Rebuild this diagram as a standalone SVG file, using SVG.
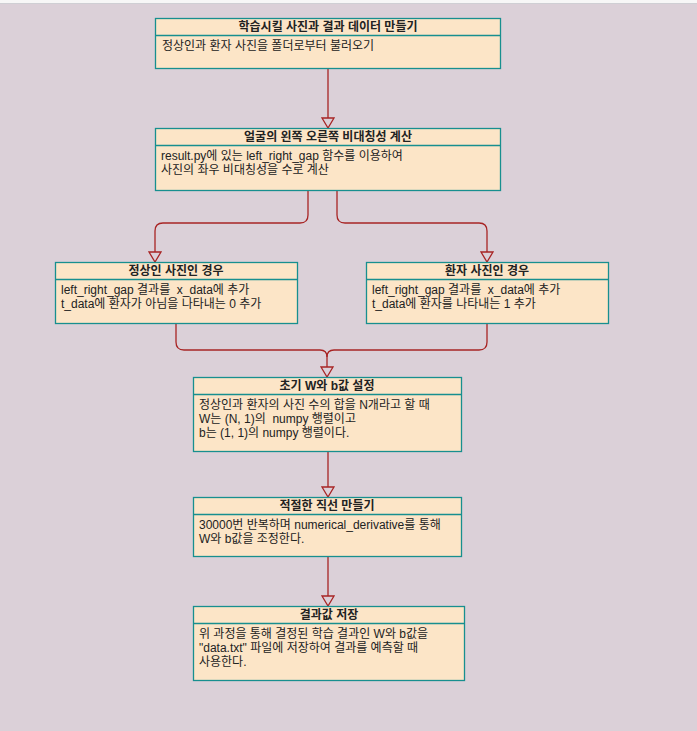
<svg xmlns="http://www.w3.org/2000/svg" width="697" height="731" viewBox="0 0 697 731">
<defs>
<style>
.box{fill:#fce5c7;stroke:#178f8f;stroke-width:1.3}
.div{stroke:#178f8f;stroke-width:1.3}
.t{font-family:"Liberation Sans","Noto Sans CJK KR",sans-serif;font-size:12px;fill:#222;white-space:pre}
.h{font-weight:bold;text-anchor:middle}
.c{fill:none;stroke:#a82424;stroke-width:1.3}
</style>
<marker id="ah" markerWidth="14" markerHeight="12" viewBox="0 0 14 12" refX="7" refY="11" orient="0" markerUnits="userSpaceOnUse">
<path d="M1,1 L13,1 L7,11 Z" fill="#dbd0d8" stroke="#a82424" stroke-width="1.3"/>
</marker>
</defs>
<rect width="697" height="731" fill="#dbd0d8"/>
<rect width="697" height="4" fill="#f7f7f7"/>
<line x1="0" y1="3.5" x2="697" y2="3.5" stroke="#cfcfd4" stroke-width="1"/>

<g id="connectors">
<path class="c" d="M328,68 V128" marker-end="url(#ah)"/>
<path class="c" d="M308,190 V215 Q308,223 300,223 H163 Q155,223 155,231 V262" marker-end="url(#ah)"/>
<path class="c" d="M337,190 V215 Q337,223 345,223 H479 Q487,223 487,231 V262" marker-end="url(#ah)"/>
<path class="c" d="M176,323 V342 Q176,350 184,350 H320 Q327,350 327,357 V377" marker-end="url(#ah)"/>
<path class="c" d="M487,323 V342 Q487,350 479,350 H334 Q327,350 327,357"/>
<path class="c" d="M328,451 V497" marker-end="url(#ah)"/>
<path class="c" d="M328,556 V606" marker-end="url(#ah)"/>
</g>

<g id="n1">
<rect class="box" x="155.5" y="18.5" width="345" height="50"/>
<line class="div" x1="155.5" y1="35.5" x2="500.5" y2="35.5"/>
<text class="t h" x="328" y="31">학습시킬 사진과 결과 데이터 만들기</text>
<text class="t" x="162" y="50">정상인과 환자 사진을 폴더로부터 불러오기</text>
</g>

<g id="n2">
<rect class="box" x="155.5" y="128.5" width="345" height="62"/>
<line class="div" x1="155.5" y1="145.5" x2="500.5" y2="145.5"/>
<text class="t h" x="328" y="141">얼굴의 왼쪽 오른쪽 비대칭성 계산</text>
<text class="t" x="161" y="160">result.py에 있는 left_right_gap 함수를 이용하여</text>
<text class="t" x="161" y="174">사진의 좌우 비대칭성을 수로 계산</text>
</g>

<g id="n3">
<rect class="box" x="55.5" y="262.5" width="242" height="61"/>
<line class="div" x1="55.5" y1="279.5" x2="297.5" y2="279.5"/>
<text class="t h" x="176" y="275">정상인 사진인 경우</text>
<text class="t" x="61" y="294" xml:space="preserve">left_right_gap 결과를  x_data에 추가</text>
<text class="t" x="61" y="308">t_data에 환자가 아님을 나타내는 0 추가</text>
</g>

<g id="n4">
<rect class="box" x="366.5" y="262.5" width="242" height="61"/>
<line class="div" x1="366.5" y1="279.5" x2="608.5" y2="279.5"/>
<text class="t h" x="487" y="275">환자 사진인 경우</text>
<text class="t" x="372" y="294" xml:space="preserve">left_right_gap 결과를  x_data에 추가</text>
<text class="t" x="372" y="308">t_data에 환자를 나타내는 1 추가</text>
</g>

<g id="n5">
<rect class="box" x="193.5" y="377.5" width="268" height="74"/>
<line class="div" x1="193.5" y1="394.5" x2="461.5" y2="394.5"/>
<text class="t h" x="327" y="390">초기 W와 b값 설정</text>
<text class="t" x="199" y="409">정상인과 환자의 사진 수의 합을 N개라고 할 때</text>
<text class="t" x="199" y="423" xml:space="preserve">W는 (N, 1)의  numpy 행렬이고</text>
<text class="t" x="199" y="437">b는 (1, 1)의 numpy 행렬이다.</text>
</g>

<g id="n6">
<rect class="box" x="193.5" y="497.5" width="268" height="59"/>
<line class="div" x1="193.5" y1="514.5" x2="461.5" y2="514.5"/>
<text class="t h" x="327" y="510">적절한 직선 만들기</text>
<text class="t" x="199" y="529">30000번 반복하며 numerical_derivative를 통해</text>
<text class="t" x="199" y="543">W와 b값을 조정한다.</text>
</g>

<g id="n7">
<rect class="box" x="193.5" y="606.5" width="271" height="74"/>
<line class="div" x1="193.5" y1="623.5" x2="464.5" y2="623.5"/>
<text class="t h" x="329" y="619">결과값 저장</text>
<text class="t" x="199" y="638">위 과정을 통해 결정된 학습 결과인 W와 b값을</text>
<text class="t" x="199" y="652">"data.txt" 파일에 저장하여 결과를 예측할 때</text>
<text class="t" x="199" y="666">사용한다.</text>
</g>
</svg>
